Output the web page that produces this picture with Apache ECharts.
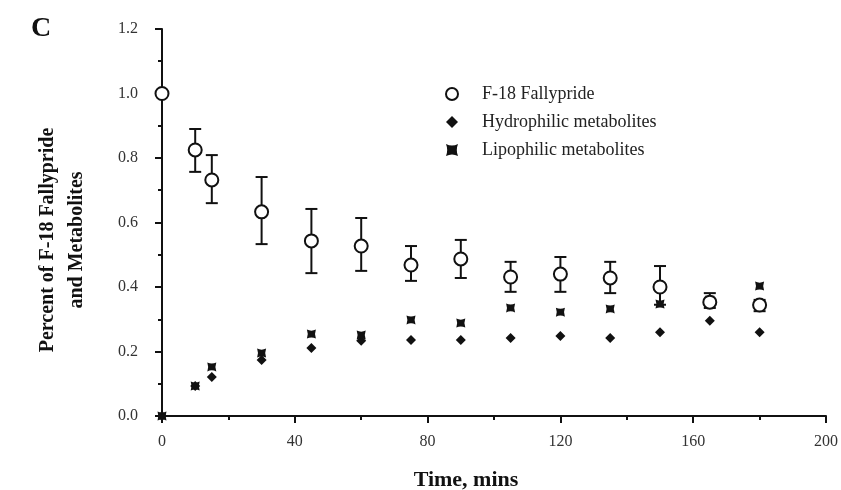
<!DOCTYPE html>
<html>
<head>
<meta charset="utf-8">
<script src="https://cdn.jsdelivr.net/npm/echarts@6/dist/echarts.min.js"></script>
<style>
  html, body { margin: 0; padding: 0; background: #fff; }
  #chart { width: 841px; height: 490px; }
</style>
</head>
<body>
<div id="chart"></div>
<script>
// data
const times = [0, 10, 15, 30, 45, 60, 75, 90, 105, 120, 135, 150, 165, 180];
const fallypride = [1.0, 0.825, 0.732, 0.633, 0.543, 0.527, 0.468, 0.487, 0.431, 0.44, 0.428, 0.40, 0.353, 0.344];
const fallyLow = [1.0, 0.757, 0.66, 0.533, 0.443, 0.45, 0.419, 0.428, 0.385, 0.385, 0.381, 0.345, 0.335, 0.325];
const fallyHigh = [1.0, 0.89, 0.809, 0.741, 0.642, 0.614, 0.527, 0.546, 0.478, 0.493, 0.478, 0.465, 0.381, 0.36];
const hydrophilic = [0, 0.093, 0.121, 0.174, 0.211, 0.233, 0.236, 0.236, 0.242, 0.248, 0.242, 0.26, 0.295, 0.26];
const lipophilic = [0, 0.093, 0.152, 0.195, 0.254, 0.251, 0.298, 0.288, 0.335, 0.322, 0.332, 0.347, 0.36, 0.403];

const ink = '#111';
const serif = '"Liberation Serif", "Times New Roman", serif';
const diamond = 'path://M5,0 L10,5 L5,10 L0,5 Z';
const bowtie = 'path://M0,0 Q5,2.5 10,0 Q8,5 10,10 Q5,7.5 0,10 Q2,5 0,0 Z';

const pair = (ys) => times.map((t, i) => [t, ys[i]]);
const errData = times.map((t, i) => [t, fallyLow[i], fallyHigh[i]]);

let chart;

const getOption = () => {
    return {
        animation: false,
        grid: { left: 162, right: 8, top: 29, bottom: 74 },
        xAxis: {
            type: 'value',
            min: 0, max: 200, interval: 40,
            splitLine: { show: false },
            axisLine: { onZero: false, lineStyle: { color: ink, width: 2 } },
            axisTick: { show: true, length: 7, lineStyle: { color: ink, width: 2 } },
            minorTick: { show: true, splitNumber: 2, length: 4, lineStyle: { color: ink, width: 2 } },
            axisLabel: { margin: 18, color: '#333', fontFamily: serif, fontSize: 16 }
        },
        yAxis: {
            type: 'value',
            min: 0, max: 1.2, interval: 0.2,
            splitLine: { show: false },
            axisLine: { show: true, onZero: false, lineStyle: { color: ink, width: 2 } },
            axisTick: { show: true, length: 7, lineStyle: { color: ink, width: 2 } },
            minorTick: { show: true, splitNumber: 2, length: 4, lineStyle: { color: ink, width: 2 } },
            axisLabel: {
                margin: 24, color: '#333', fontFamily: serif, fontSize: 16,
                formatter: (v) => v.toFixed(1)
            }
        },
        legend: {
            orient: 'vertical',
            left: 440, top: 80,
            itemWidth: 50, itemHeight: 12, itemGap: 10,
            textStyle: { fontFamily: serif, fontSize: 18, color: '#222' },
            data: ['F-18 Fallypride', 'Hydrophilic metabolites', 'Lipophilic metabolites']
        },
        graphic: [
            {
                type: 'text', left: 31, top: 15,
                style: { text: 'C', font: 'bold 28px ' + serif, fill: ink }
            },
            {
                type: 'text', x: 62, y: 240, rotation: Math.PI / 2,
                style: {
                    text: 'Percent of F-18 Fallypride\nand Metabolites',
                    font: 'bold 20px ' + serif, fill: ink,
                    align: 'center', verticalAlign: 'middle', lineHeight: 29
                }
            },
            {
                type: 'text', x: 466, y: 480,
                style: {
                    text: 'Time, mins', font: 'bold 22px ' + serif, fill: ink,
                    align: 'center', verticalAlign: 'middle'
                }
            }
        ],
        series: [
            {
                name: 'errors',
                type: 'custom',
                data: errData,
                z: 1,
                renderItem: (params, api) => {
                    const x = api.value(0);
                    const lo = api.coord([x, api.value(1)]);
                    const hi = api.coord([x, api.value(2)]);
                    if (Math.abs(hi[1] - lo[1]) < 1) return null;
                    const w = 6;
                    const style = { stroke: ink, lineWidth: 2 };
                    return {
                        type: 'group',
                        children: [
                            { type: 'line', shape: { x1: lo[0], y1: lo[1], x2: hi[0], y2: hi[1] }, style: style },
                            { type: 'line', shape: { x1: hi[0] - w, y1: hi[1], x2: hi[0] + w, y2: hi[1] }, style: style },
                            { type: 'line', shape: { x1: lo[0] - w, y1: lo[1], x2: lo[0] + w, y2: lo[1] }, style: style }
                        ]
                    };
                }
            },
            {
                name: 'Hydrophilic metabolites',
                type: 'scatter',
                symbol: diamond,
                symbolSize: 10,
                itemStyle: { color: ink, opacity: 1 },
                z: 3,
                data: pair(hydrophilic)
            },
            {
                name: 'Lipophilic metabolites',
                type: 'scatter',
                symbol: bowtie,
                symbolSize: 9,
                itemStyle: { color: ink, opacity: 1 },
                z: 3,
                data: pair(lipophilic)
            },
            {
                name: 'F-18 Fallypride',
                type: 'scatter',
                symbol: 'circle',
                symbolSize: 13,
                itemStyle: { color: '#fff', borderColor: ink, borderWidth: 2, opacity: 1 },
                z: 4,
                data: pair(fallypride)
            }
        ]
    };
};

function initChart(){
    chart = echarts.init(document.getElementById('chart'));
    chart.setOption(getOption());
}

initChart();
</script>
</body>
</html>
